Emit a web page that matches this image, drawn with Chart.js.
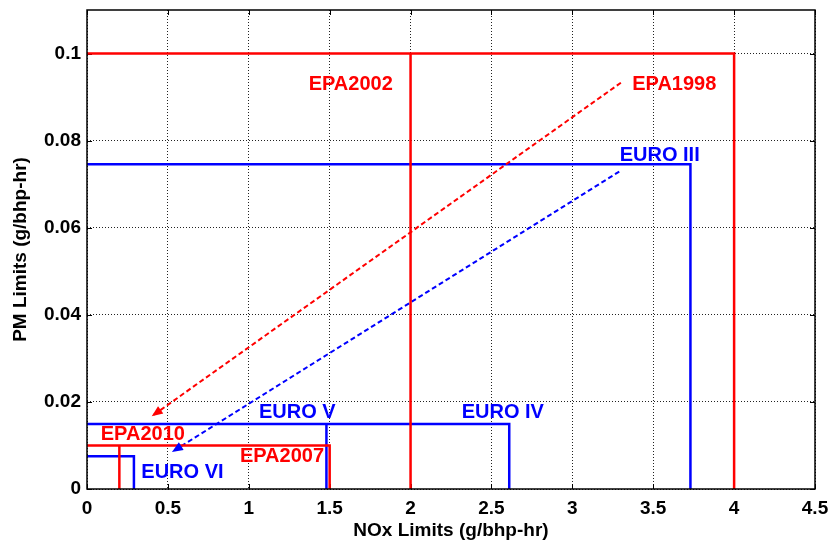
<!DOCTYPE html>
<html>
<head>
<meta charset="utf-8">
<script src="https://cdn.jsdelivr.net/npm/chart.js@4.4.1/dist/chart.umd.min.js"></script>
<style>
  html, body { margin: 0; padding: 0; background: #fff; }
  #wrap { width: 830px; height: 544px; }
</style>
</head>
<body>
<div id="wrap"><canvas id="c" width="830" height="544"></canvas></div>
<script>
// Axis ticks
const xTicks = [0, 0.5, 1, 1.5, 2, 2.5, 3, 3.5, 4, 4.5];
const xTickLabels = ['0', '0.5', '1', '1.5', '2', '2.5', '3', '3.5', '4', '4.5'];
const yTicks = [0, 0.02, 0.04, 0.06, 0.08, 0.1];
const yTickLabels = ['0', '0.02', '0.04', '0.06', '0.08', '0.1'];

// Emission limit envelopes: [NOx g/bhp-hr, PM g/bhp-hr]
const epa1998 = [[0, 0.1], [4, 0.1], [4, 0]];
const epa2002 = [[2, 0.1], [2, 0]];
const epa2007 = [[0, 0.01], [1.5, 0.01], [1.5, 0]];
const epa2010 = [[0.2, 0.01], [0.2, 0]];
const euroIII = [[0, 0.0746], [3.73, 0.0746], [3.73, 0]];
const euroIV = [[0, 0.0149], [2.61, 0.0149], [2.61, 0]];
const euroV = [[1.48, 0.0149], [1.48, 0]];
const euroVI = [[0, 0.0075], [0.29, 0.0075], [0.29, 0]];

// Trend arrows (tail -> head)
const epaTrend = [[3.3, 0.0933], [0.4, 0.0167]];
const euroTrend = [[3.29, 0.0729], [0.525, 0.0085]];

// Standard names and where they are written
const labelNames = ['EPA2002', 'EPA1998', 'EURO III', 'EURO V', 'EURO IV', 'EPA2010', 'EPA2007', 'EURO VI'];
const labelX = [1.63, 3.63, 3.54, 1.30, 2.57, 0.345, 1.205, 0.59];
const labelY = [0.0929, 0.0929, 0.0766, 0.0175, 0.0175, 0.0126, 0.0074, 0.0037];
const labelIsEpa = [true, true, false, false, false, true, true, false];

const RED = '#ff0000';
const BLUE = '#0000ff';
const FONT = "'Liberation Sans', Arial, sans-serif";

const toPts = arr => arr.map(p => ({ x: p[0], y: p[1] }));

function limitSet(pts, color) {
  return {
    data: toPts(pts), showLine: true, borderColor: color, backgroundColor: color,
    borderWidth: 2.5, pointRadius: 0, tension: 0, fill: false, clip: false
  };
}
function trendSet(pts, color) {
  return {
    data: toPts(pts), showLine: true, borderColor: color, backgroundColor: color,
    borderWidth: 2, borderDash: [5, 3], pointRadius: 0, tension: 0, fill: false,
    isArrow: true
  };
}

const datasets = [
  limitSet(epa1998, RED), limitSet(epa2002, RED), limitSet(epa2007, RED), limitSet(epa2010, RED),
  trendSet(epaTrend, RED),
  limitSet(euroIII, BLUE), limitSet(euroIV, BLUE), limitSet(euroV, BLUE), limitSet(euroVI, BLUE),
  trendSet(euroTrend, BLUE)
];

// Box, inward tick marks, arrow heads and standard names
const decorations = {
  id: 'decorations',
  beforeDatasetsDraw(chart) {
    const { ctx, chartArea: a, scales: { x, y } } = chart;
    ctx.save();
    ctx.strokeStyle = '#000';
    ctx.lineWidth = 1;
    ctx.beginPath();
    xTicks.forEach(v => {
      const px = Math.round(x.getPixelForValue(v)) + 0.5;
      ctx.moveTo(px, a.bottom); ctx.lineTo(px, a.bottom - 5);
      ctx.moveTo(px, a.top); ctx.lineTo(px, a.top + 5);
    });
    yTicks.forEach(v => {
      const py = Math.round(y.getPixelForValue(v)) + 0.5;
      ctx.moveTo(a.left, py); ctx.lineTo(a.left + 5, py);
      ctx.moveTo(a.right, py); ctx.lineTo(a.right - 5, py);
    });
    ctx.stroke();
    ctx.restore();
  },
  afterDatasetsDraw(chart) {
    const { ctx, chartArea: a, scales: { x, y } } = chart;
    ctx.save();
    // arrow heads
    chart.data.datasets.forEach(ds => {
      if (!ds.isArrow) return;
      const n = ds.data.length;
      const p0 = ds.data[n - 2], p1 = ds.data[n - 1];
      const x0 = x.getPixelForValue(p0.x), y0 = y.getPixelForValue(p0.y);
      const x1 = x.getPixelForValue(p1.x), y1 = y.getPixelForValue(p1.y);
      const ang = Math.atan2(y1 - y0, x1 - x0);
      const len = 11, half = 4.5;
      ctx.fillStyle = ds.borderColor;
      ctx.beginPath();
      ctx.moveTo(x1, y1);
      ctx.lineTo(x1 - len * Math.cos(ang) + half * Math.sin(ang), y1 - len * Math.sin(ang) - half * Math.cos(ang));
      ctx.lineTo(x1 - len * Math.cos(ang) - half * Math.sin(ang), y1 - len * Math.sin(ang) + half * Math.cos(ang));
      ctx.closePath();
      ctx.fill();
    });
    // plot box
    ctx.strokeStyle = '#000';
    ctx.lineWidth = 1.5;
    ctx.strokeRect(a.left, a.top, a.right - a.left, a.bottom - a.top);
    // names of the standards
    ctx.font = 'bold 20px ' + FONT;
    ctx.textAlign = 'center';
    ctx.textBaseline = 'middle';
    labelNames.forEach((t, i) => {
      ctx.fillStyle = labelIsEpa[i] ? RED : BLUE;
      ctx.fillText(t, x.getPixelForValue(labelX[i]), y.getPixelForValue(labelY[i]));
    });
    ctx.restore();
  }
};

new Chart(document.getElementById('c'), {
  type: 'scatter',
  data: { datasets },
  options: {
    responsive: false,
    animation: false,
    events: [],
    layout: { padding: { left: 0, right: 15, top: 10, bottom: 0 } },
    plugins: { legend: { display: false }, tooltip: { enabled: false } },
    scales: {
      x: {
        type: 'linear', min: 0, max: 4.5,
        afterBuildTicks: s => { s.ticks = xTicks.map(v => ({ value: v })); },
        afterFit: s => { s.height = 55; s.paddingLeft = 0; s.paddingRight = 0; },
        ticks: {
          color: '#000', padding: 8, maxRotation: 0, autoSkip: false,
          font: { family: FONT, size: 19, weight: 'bold' },
          callback: (v, i) => xTickLabels[i]
        },
        grid: { color: '#222', lineWidth: 1, tickLength: 0, drawTicks: false },
        border: { display: false, dash: [1, 2] },
        title: {
          display: true, text: 'NOx Limits (g/bhp-hr)', color: '#000',
          font: { family: FONT, size: 19, weight: 'bold' }, padding: { top: 2, bottom: 2 }
        }
      },
      y: {
        type: 'linear', min: 0, max: 0.11,
        afterBuildTicks: s => { s.ticks = yTicks.map(v => ({ value: v })); },
        afterFit: s => { s.width = 87; s.paddingTop = 0; s.paddingBottom = 0; },
        ticks: {
          color: '#000', padding: 6, autoSkip: false,
          font: { family: FONT, size: 19, weight: 'bold' },
          callback: (v, i) => yTickLabels[i]
        },
        grid: { color: '#222', lineWidth: 1, tickLength: 0, drawTicks: false },
        border: { display: false, dash: [1, 2] },
        title: {
          display: true, text: 'PM Limits (g/bhp-hr)', color: '#000',
          font: { family: FONT, size: 19, weight: 'bold' }, padding: { top: 9, bottom: 4 }
        }
      }
    }
  },
  plugins: [decorations]
});
</script>
</body>
</html>
